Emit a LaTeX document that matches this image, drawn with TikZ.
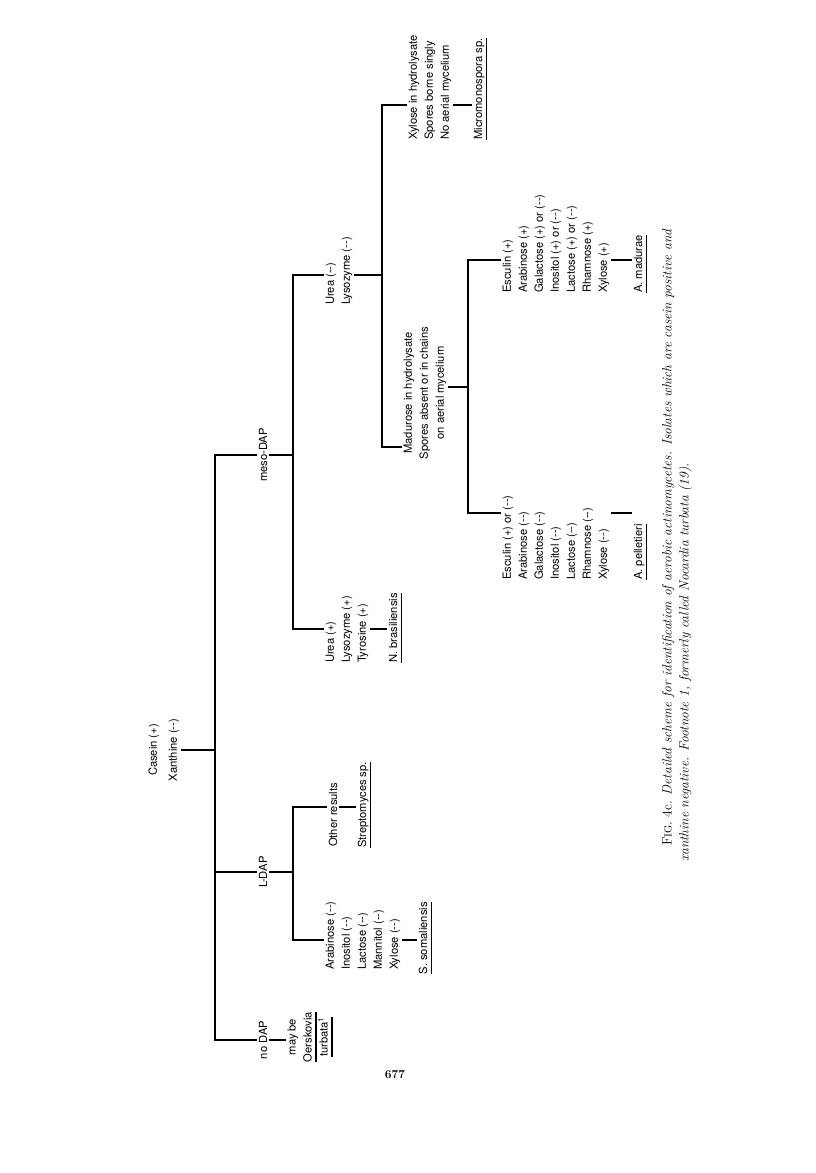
\documentclass[tikz,border=0pt]{standalone}
\usepackage{fontspec}
\usepackage{tikz}
\usetikzlibrary{positioning}
\newfontfamily\heros{TeX Gyre Heros}
\newcommand{\keyfont}{\heros\fontsize{11.2}{16}\selectfont}
\newcommand{\spname}[1]{\setbox0=\hbox{#1}\rlap{\rule[-5pt]{\wd0}{1.3pt}}\box0}
\tikzset{branch/.style = {line width=2pt}}
\tikzset{test/.style = {rotate=90, anchor=west, align=left,
                        inner sep=1.5pt, font=\keyfont}}
\tikzset{ctest/.style = {rotate=90, align=center,
                         inner sep=1.5pt, font=\keyfont}}
\tikzset{figcap/.style = {rotate=90, anchor=base west, inner sep=0pt,
                          font=\fontsize{13.5}{16}\selectfont\itshape}}

\begin{document}
\begin{tikzpicture}[x=1pt, y=-1pt]
      \useasboundingbox (0,0) rectangle (816,1173);
      \coordinate (trunk) at (215,750);
      \coordinate (lTa) at (293,807);
      \coordinate (lTb) at (293,940);
      \coordinate (mTa) at (293,275);
      \coordinate (mTb) at (293,629);
      \coordinate (sTa) at (382,105);
      \coordinate (sTm) at (382,275);
      \coordinate (sTb) at (382,447);
      \coordinate (eTa) at (468,260);
      \coordinate (eTm) at (468,387);
      \coordinate (eTb) at (468,513);
      \node[ctest] (root) at (164,750) {Casein (+)\\[4pt]Xanthine (--)};
      \node[ctest] (meso) at (263,455) {meso-DAP};
      \node[ctest] (ldap) at (263,872) {L-DAP};
      \node[ctest] (nodap) at (263,1040) {no DAP};
      \node[ctest] (oersk) at (310,1037)
        {may be\\\spname{Oerskovia}\\\spname{turbata\textsuperscript{1}}};
      \node[test] (other) at (333,848.5) {Other results};
      \node[test] (strep) at (364.5,849.5) {\spname{Streptomyces sp.}};
      \node[test] (ara) at (363,971.5)
        {Arabinose (--)\\Inositol (--)\\Lactose (--)\\Mannitol (--)\\Xylose (--)};
      \node[test] (ssom) at (425.5,976) {\spname{S. somaliensis}};
      \node[test] (urp) at (347,664.5) {Urea (+)\\Lysozyme (+)\\Tyrosine (+)};
      \node[test] (nbras) at (395.5,664.5) {\spname{N. brasiliensis}};
      \node[test] (urm) at (339,306.5) {Urea (--)\\Lysozyme (--)};
      \node[test] (xyl) at (430,141.5)
        {Xylose in hydrolysate\\Spores borne singly\\No aerial mycelium};
      \node[test] (micro) at (480.5,141.5) {\spname{Micromonospora sp.}};
      \node[ctest] (madu) at (425,393)
        {Madurose in hydrolysate\\Spores absent or in chains\\on aerial mycelium};
      \node[test] (escp) at (556,294.5)
        {Esculin (+)\\Arabinose (+)\\Galactose (+) or (--)\\Inositol (+) or (--)\\
         Lactose (+) or (--)\\Rhamnose (+)\\Xylose (+)};
      \node[test] (madurae) at (640.5,294.5) {\spname{A. madurae}};
      \node[test] (escm) at (556,581.5)
        {Esculin (+) or (--)\\Arabinose (--)\\Galactose (--)\\Inositol (--)\\
         Lactose (--)\\Rhamnose (--)\\Xylose (--)};
      \node[test] (pell) at (640.5,581.5) {\spname{A. pelletieri}};
      \draw[branch] (root.south) -- (trunk);
      \draw[branch] (meso.north) -| (trunk) |- (nodap.north);
      \draw[branch] (ldap.north) -- (ldap.north -| trunk);
      \draw[branch] (nodap.south) -- (oersk.north |- nodap.south);
      \draw[branch] (ldap.south) -- (ldap.south -| lTa);
      \draw[branch] (other.north |- lTa) -- (lTa) -- (lTb) -- (ara.north |- lTb);
      \draw[branch] (other.south |- lTa) -- (strep.north |- lTa);
      \draw[branch] (ara.south |- lTb) -- (ssom.north |- lTb);
      \draw[branch] (meso.south) -- (meso.south -| mTa);
      \draw[branch] (urm.north |- mTa) -- (mTa) -- (mTb) -- (urp.north |- mTb);
      \draw[branch] (urp.south |- mTb) -- (nbras.north |- mTb);
      \draw[branch] (urm.south |- sTm) -- (sTm);
      \draw[branch] (xyl.north |- sTa) -- (sTa) -- (sTb) -- (madu.north |- sTb);
      \draw[branch] (xyl.south |- sTa) -- (micro.north |- sTa);
      \draw[branch] (madu.south |- eTm) -- (eTm);
      \draw[branch] (escp.north |- eTa) -- (eTa) -- (eTb) -- (escm.north |- eTb);
      \draw[branch] (escp.south |- eTa) -- (madurae.north |- eTa);
      \draw[branch] (escm.south |- eTb) -- (pell.north |- eTb);
      \node[figcap] (cap1) at (671.5,846)
        {\upshape F{\fontsize{10.5}{12}\selectfont IG}. 4c. \itshape Detailed scheme for identification of aerobic actinomycetes. Isolates which are casein positive and};
      \node[figcap] (cap2) at (688.5,862)
        {xanthine negative. Footnote 1, formerly called Nocardia turbata (19).};
      \node[font=\fontsize{12}{14}\selectfont\bfseries] (pnum) at (395,1075) {677};
\end{tikzpicture}
\end{document}
